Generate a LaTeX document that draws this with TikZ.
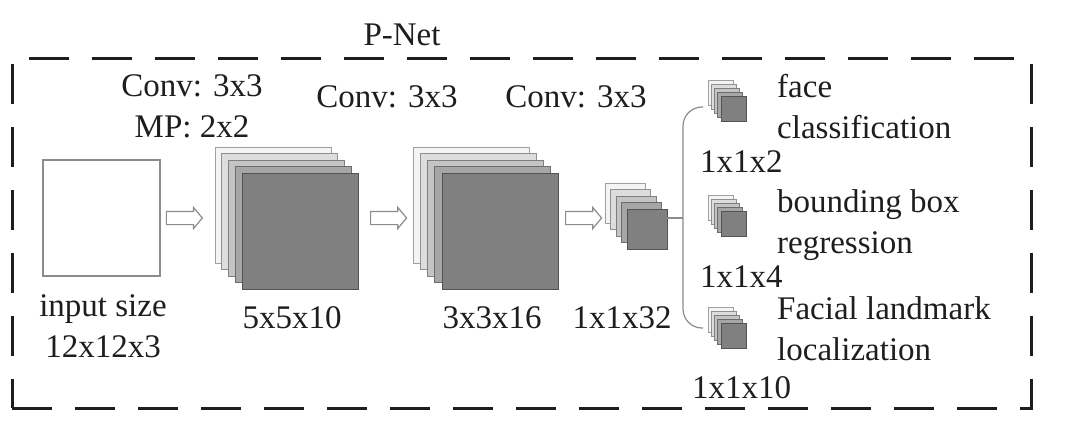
\documentclass[tikz,border=0pt]{standalone}
\usepackage{fontspec}
\setmainfont{Liberation Serif}
\usepackage{tikz}
\usetikzlibrary{arrows.meta,positioning,shapes.arrows}
\definecolor{ink}{HTML}{1E1E1E}
\definecolor{edge}{HTML}{8C8C8C}
\definecolor{fm0}{HTML}{F4F4F4}
\definecolor{fm1}{HTML}{DDDDDD}
\definecolor{fm2}{HTML}{C4C4C4}
\definecolor{fm3}{HTML}{A6A6A6}
\definecolor{fm4}{HTML}{808080}
\tikzset{
  pnetbox/.style={draw=ink,line width=3pt,dash pattern=on 40pt off 23pt},
  txt/.style={font=\fontsize{33}{41}\selectfont,text=ink,inner sep=0pt},
  inbox/.style={draw=edge,line width=1.5pt,fill=white,minimum width=117pt,minimum height=116pt,inner sep=0pt},
  fmap/.style={line width=1pt,inner sep=0pt,outer sep=0pt,anchor=north west},
  harrow/.style={single arrow,draw=edge,line width=1.2pt,fill=white,inner sep=6pt,minimum height=36pt,single arrow head extend=4pt,single arrow tip angle=100,anchor=west},
  link/.style={draw=edge,line width=1.2pt}}
\newcommand{\fmstack}[6]{%
  \foreach \i/\c in {0/fm0,1/fm1,2/fm2,3/fm3,4/fm4}
    \node[fmap,fill=\c,draw=\c!65!black,minimum width=#4pt,minimum height=#4pt] (#1-\i) at ({#2+\i*#5},{#3+\i*#6}) {};}

\begin{document}
\begin{tikzpicture}[x=1pt,y=-1pt]
\useasboundingbox (0,0) rectangle (1075,429);
\draw[pnetbox] (12,408) -- (1031,408) -- (1031,58) -- (12,58) -- cycle;
\node[txt,anchor=base] (title) at (402,45) {P-Net};

\node[inbox] (inbox) at (101.5,218) {};
\node[harrow,right=5pt of inbox] (a1) {};
\fmstack{s1}{215}{147}{116}{6.75}{6.5}
\node[harrow] (a2) at (370,218) {};
\fmstack{s2}{413}{147}{116}{7.25}{6.5}
\node[harrow] (a3) at (565,218) {};
\fmstack{s3}{605}{183}{40}{5.5}{6.5}
\fmstack{sa}{708}{80}{25}{3.25}{4}
\fmstack{sb}{708}{195}{25}{3.25}{4}
\fmstack{sc}{708}{307}{25}{3.25}{4}

\coordinate (br) at (683,218);
\coordinate (bt) at (703,107);
\coordinate (bb) at (703,328);
\draw[link] (s3-4.east |- br) -- (br);
\draw[link,rounded corners=19pt] (bt) -| (br) |- (bb);

\node[txt,anchor=base,align=center] (c1) at (192,137) {Conv: 3x3\\MP: 2x2};
\node[txt,anchor=base] (c2) at (387,107) {Conv: 3x3};
\node[txt,anchor=base] (c3) at (576,107) {Conv: 3x3};
\node[txt,anchor=base,align=center] (inl) at (103,357) {input size\\12x12x3};
\node[txt,anchor=base] (l1) at (292,328) {5x5x10};
\node[txt,anchor=base] (l2) at (492,328) {3x3x16};
\node[txt,anchor=base] (l3) at (622,328) {1x1x32};
\node[txt,anchor=base west,align=left] (oa) at (777,138) {face\\classification};
\node[txt,anchor=base west] (na) at (700,172) {1x1x2};
\node[txt,anchor=base west,align=left] (ob) at (777,253) {bounding box\\regression};
\node[txt,anchor=base west] (nb) at (700,287) {1x1x4};
\node[txt,anchor=base west,align=left] (oc) at (777,360) {Facial landmark\\localization};
\node[txt,anchor=base west] (nc) at (692,398) {1x1x10};
\end{tikzpicture}
\end{document}
